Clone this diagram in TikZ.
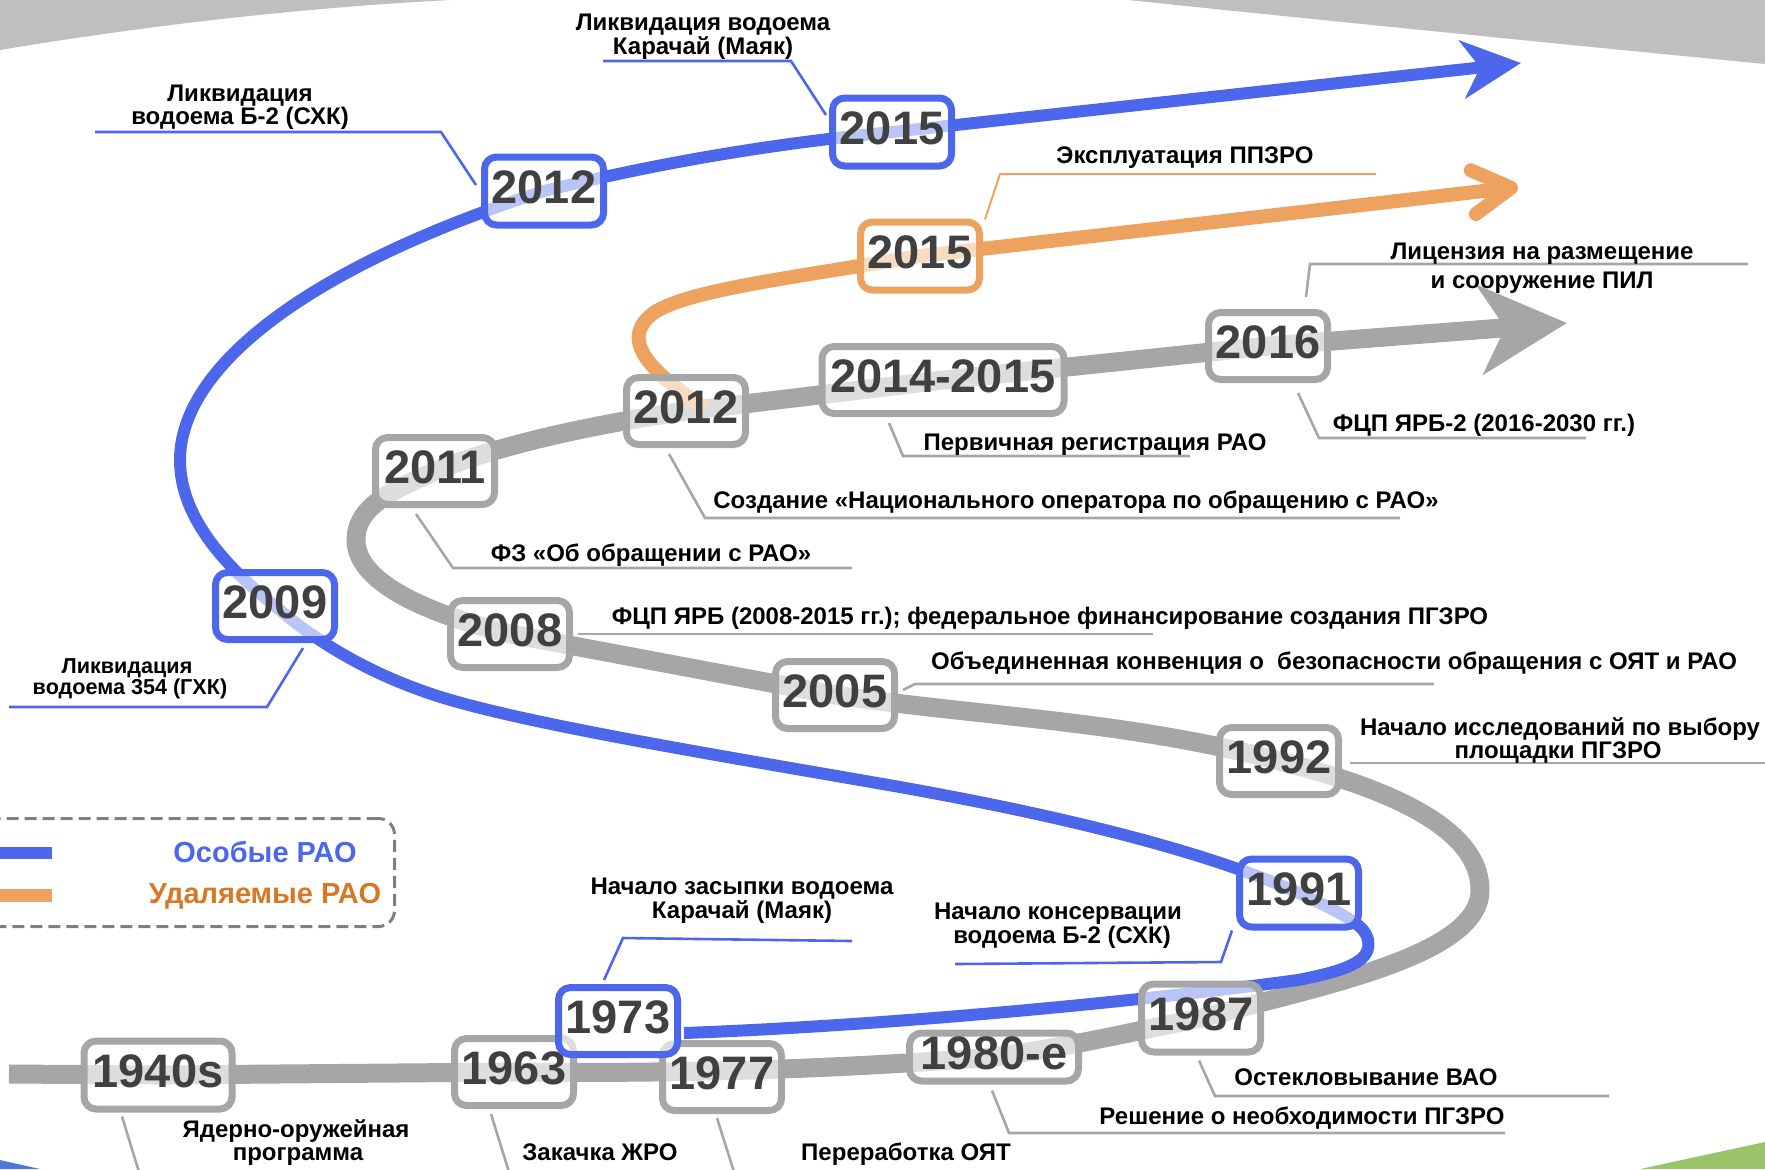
\documentclass[tikz,border=0pt]{standalone}
\usepackage{fontspec}
\setmainfont{Liberation Sans}
\usetikzlibrary{arrows.meta,calc}

\definecolor{raoBlue}{RGB}{76,103,235}
\definecolor{raoOrange}{RGB}{237,163,95}
\definecolor{raoGrey}{RGB}{166,166,166}
\definecolor{legOrange}{RGB}{214,120,36}
\definecolor{yearText}{RGB}{64,64,64}
\definecolor{bandGrey}{RGB}{191,191,191}
\definecolor{cornerGreen}{RGB}{155,196,106}
\definecolor{cornerBlue}{RGB}{75,120,212}
\definecolor{dashGrey}{RGB}{127,127,127}

\pgfdeclarelayer{bg}
\pgfdeclarelayer{lines}
\pgfsetlayers{bg,lines,main}

\begin{document}
\begin{tikzpicture}[x=0.5pt,y=-0.5pt,
  yr/.style={draw, rounded corners=6pt, line width=3.5pt, fill=white,
    fill opacity=0.62, text opacity=1, inner sep=0pt, text=yearText,
    font=\fontsize{23.5pt}{28pt}\selectfont\bfseries, text depth=4pt,
    minimum width=59.5pt, minimum height=33.5pt},
  yrG/.style={yr, draw=raoGrey},
  yrB/.style={yr, draw=raoBlue},
  yrO/.style={yr, draw=raoOrange},
  lbl/.style={anchor=base, inner sep=0pt, font=\fontsize{12pt}{14pt}\selectfont\bfseries},
  lblsmall/.style={lbl, font=\fontsize{10.8pt}{13pt}\selectfont\bfseries},
  legtext/.style={anchor=base, inner sep=0pt, font=\fontsize{14.5pt}{17pt}\selectfont\bfseries},
  leadG/.style={draw=raoGrey, line width=1.3pt},
  leadB/.style={draw=raoBlue, line width=1.3pt},
  leadO/.style={draw=raoOrange, line width=1pt},
  line join=round]

\useasboundingbox (0,0) rectangle (1765,1169);

% background corners
\begin{pgfonlayer}{bg}
  \fill[bandGrey] (0,0) -- (450,0) .. controls (300,8) and (150,25) .. (0,50) -- cycle;
  \fill[bandGrey] (1128,0) -- (1765,0) -- (1765,64) .. controls (1600,48) and (1300,18) .. (1128,0) -- cycle;
  \fill[cornerBlue] (0,1160) -- (40,1169) -- (0,1169) -- cycle;
  \fill[cornerGreen] (1640,1169) -- (1765,1142) -- (1765,1169) -- cycle;
\end{pgfonlayer}

% year boxes
\node[yrG, minimum width=74pt, minimum height=34pt] (g1940) at (158,1075) {1940s};
\node[yrG] (g1963) at (514,1072) {1963};
\node[yrG] (g1977) at (722,1077) {1977};
\node[yrB] (b1973) at (618,1021) {1973};
\node[yrG, minimum width=84.5pt, minimum height=24pt] (g1980) at (994,1057) {1980-е};
\node[yrG, minimum height=34pt] (g1987) at (1201,1018) {1987};
\node[yrB, minimum height=34pt] (b1991) at (1299,893) {1991};
\node[yrG] (g1992) at (1279,761) {1992};
\node[yrG] (g2005) at (835,695) {2005};
\node[yrG] (g2008) at (510,634) {2008};
\node[yrB] (b2009) at (275,606) {2009};
\node[yrG] (g2011) at (435,471) {2011};
\node[yrG] (g2012) at (686,411) {2012};
\node[yrG, minimum width=121pt] (g2014) at (943,380) {2014-2015};
\node[yrG] (g2016) at (1268,346) {2016};
\node[yrB, minimum height=34pt] (b2012) at (544,191) {2012};
\node[yrB, minimum height=34pt] (b2015) at (892,132) {2015};
\node[yrO, minimum height=34pt] (o2015) at (920,256) {2015};

% event labels
\node[lbl] (t1a) at (703,30) {Ликвидация водоема};
\node[lbl] (t1b) at (703,54) {Карачай (Маяк)};
\node[lbl] (t2a) at (240,101) {Ликвидация};
\node[lbl] (t2b) at (240,124) {водоема Б-2 (СХК)};
\node[lbl] (t3) at (1185,163) {Эксплуатация ППЗРО};
\node[lbl] (t4a) at (1542,259) {Лицензия на размещение};
\node[lbl] (t4b) at (1542,288) {и сооружение ПИЛ};
\node[lbl] (t5) at (1484,431) {ФЦП ЯРБ-2 (2016-2030 гг.)};
\node[lbl] (t6) at (1095,450) {Первичная регистрация РАО};
\node[lbl] (t7) at (1076,508) {Создание «Национального оператора по обращению с РАО»};
\node[lbl] (t8) at (651,561) {ФЗ «Об обращении с РАО»};
\node[lbl] (t9) at (1050,624) {ФЦП ЯРБ (2008-2015 гг.); федеральное финансирование создания ПГЗРО};
\node[lbl] (t10) at (1334,669) {Объединенная конвенция о\ \ безопасности обращения с ОЯТ и РАО};
\node[lbl] (t11a) at (1560,735) {Начало исследований по выбору};
\node[lbl] (t11b) at (1558,758) {площадки ПГЗРО};
\node[lbl] (t12a) at (1058,919) {Начало консервации};
\node[lbl] (t12b) at (1062,943) {водоема Б-2 (СХК)};
\node[lbl] (t13) at (1366,1085) {Остекловывание ВАО};
\node[lbl] (t14) at (1302,1124) {Решение о необходимости ПГЗРО};
\node[lbl] (t15) at (906,1160) {Переработка ОЯТ};
\node[lbl] (t16) at (600,1160) {Закачка ЖРО};
\node[lbl] (t17a) at (296,1137) {Ядерно-оружейная};
\node[lbl] (t17b) at (298,1160) {программа};
\node[lbl] (t18a) at (742,894) {Начало засыпки водоема};
\node[lbl] (t18b) at (742,918) {Карачай (Маяк)};
\node[lblsmall] (t19a) at (127,673) {Ликвидация};
\node[lblsmall] (t19b) at (130,694) {водоема 354 (ГХК)};

% legend
\node[draw=dashGrey, line width=1.5pt, dash pattern=on 6pt off 3pt, rounded corners=8pt,
      minimum width=206.5pt, minimum height=54pt, inner sep=0pt] (legend) at (188,872.5) {};
\node[legtext, text=raoBlue] (legB) at (265,862) {Особые РАО};
\node[legtext, text=legOrange] (legO) at (265,903) {Удаляемые РАО};
\coordinate (lb0) at (0,853);   \coordinate (lb1) at (52,853);
\coordinate (lo0) at (0,895);   \coordinate (lo1) at (52,895);

% underline corners and free ends
\coordinate (u1s) at (603,61);    \coordinate (u1k) at (791,61);
\coordinate (u2s) at (95,132);    \coordinate (u2k) at (441,132);
\coordinate (u3s) at (1376,174);  \coordinate (u3k) at (1000,174);
\coordinate (u4s) at (1748,264);  \coordinate (u4k) at (1310,264);
\coordinate (u5s) at (1586,438);  \coordinate (u5k) at (1319,438);
\coordinate (u6s) at (1190,456);  \coordinate (u6k) at (903,456);
\coordinate (u7s) at (1400,518);  \coordinate (u7k) at (705,518);
\coordinate (u8s) at (852,568);   \coordinate (u8k) at (453,568);
\coordinate (u9s) at (1153,634);
\coordinate (u10s) at (1434,684); \coordinate (u10k) at (915,684);
\coordinate (u11s) at (1765,763);
\coordinate (u12s) at (955,964);  \coordinate (u12k) at (1221,962);
\coordinate (u13s) at (1609,1096); \coordinate (u13k) at (1215,1096);
\coordinate (u14s) at (1505,1133); \coordinate (u14k) at (1009,1133);
\coordinate (u15e) at (734,1172);
\coordinate (u16e) at (509,1172);
\coordinate (u17e) at (139,1172);
\coordinate (u18s) at (852,941);  \coordinate (u18k) at (623,938);
\coordinate (u19s) at (9,707);    \coordinate (u19k) at (267,707);

% timeline ends
\coordinate (gs) at (9,1074);
\coordinate (gtip) at (1567,323);
\coordinate (os) at (705,408);
\coordinate (otip) at (1518,187);
\coordinate (bs) at (684,1033);
\coordinate (btip) at (1521,63);

\begin{pgfonlayer}{lines}
  % leaders
  \draw[leadB] (u1s) -- (u1k) -- ($(b2015.west)+(-3,-17)$);
  \draw[leadB] (u2s) -- (u2k) -- ($(b2012.west)+(-5,-6)$);
  \draw[leadO] (u3s) -- (u3k) -- ($(o2015.north east)+(2,1)$);
  \draw[leadG] (u4s) -- (u4k) -- ($(g2016.north)+(38,-12)$);
  \draw[leadG] (u5s) -- (u5k) -- ($(g2016.south)+(30,10)$);
  \draw[leadG] (u6s) -- (u6k) -- ($(g2014.south)+(-54,6)$);
  \draw[leadG] (u7s) -- (u7k) -- ($(g2012.south)+(-17,6)$);
  \draw[leadG] (u8s) -- (u8k) -- ($(g2011.south)+(-19,6)$);
  \draw[leadG] (u9s) -- ($(g2008.east)+(5,0)$);
  \draw[leadG] (u10s) -- (u10k) -- ($(g2005.east)+(5,-5)$);
  \draw[leadG] (u11s) -- ($(g1992.east)+(8,2)$);
  \draw[leadB] (u12s) -- (u12k) -- ($(b1991.south west)+(-4,0)$);
  \draw[leadG] (u13s) -- (u13k) -- ($(g1987.south)+(-2,5)$);
  \draw[leadG] (u14s) -- (u14k) -- ($(g1980.south)+(-2,6)$);
  \draw[leadG] ($(g1977.south)+(-5,4)$) -- (u15e);
  \draw[leadG] ($(g1963.south)+(-23,5)$) -- (u16e);
  \draw[leadG] ($(g1940.south)+(-36,4)$) -- (u17e);
  \draw[leadB] (u18s) -- (u18k) -- ($(b1973.north)+(-14,-4)$);
  \draw[leadB] (u19s) -- (u19k) -- ($(b2009.south)+(28,5)$);

  % legend swatches
  \draw[raoBlue, line width=6pt] (lb0) -- (lb1);
  \draw[raoOrange, line width=6.5pt] (lo0) -- (lo1);

  % main timeline
  \draw[raoGrey, line width=9.5pt, -{Stealth[length=43.5pt,width=44.5pt,inset=12.5pt]}]
    (gs) -- (g1940.center) -- (g1963.center)
    .. controls (700,1074) and (850,1068) .. (g1980.center)
    .. controls (1080,1045) and (1140,1030) .. (g1987.center)
    .. controls (1325,985) and (1480,955) .. (1480,890)
    .. controls (1480,830) and (1395,790) .. (g1992.center)
    .. controls (1129,721) and (985,717) .. (g2005.center)
    -- (g2008.center)
    .. controls (420,612) and (356,580) .. (356,540)
    .. controls (356,505) and (395,490) .. (g2011.center)
    .. controls (500,445) and (590,425) .. (g2012.center)
    -- (g2014.center) -- (g2016.center) -- (gtip);

  % removable waste branch
  \draw[raoOrange, line width=7pt, -{Straight Barb[length=19pt,width=22pt,round]}]
    (os) .. controls (655,375) and (615,340) .. (655,312)
    .. controls (690,290) and (790,278) .. (o2015.center) -- (otip);

  % special waste branch
  \draw[raoBlue, line width=6pt, -{Stealth[length=29.5pt,width=29pt,inset=9pt]}]
    (bs) .. controls (900,1025) and (1150,1000) .. (1298,980)
    .. controls (1350,970) and (1372,960) .. (1368,940)
    .. controls (1365,925) and (1345,915) .. (b1991.center)
    .. controls (1180,840) and (1000,805) .. (900,787)
    .. controls (700,752) and (500,720) .. (420,690)
    .. controls (370,672) and (320,645) .. (b2009.center)
    .. controls (230,570) and (180,520) .. (180,460)
    .. controls (180,370) and (300,270) .. (b2012.center)
    .. controls (650,165) and (760,145) .. (b2015.center) -- (btip);
\end{pgfonlayer}

\end{tikzpicture}
\end{document}
